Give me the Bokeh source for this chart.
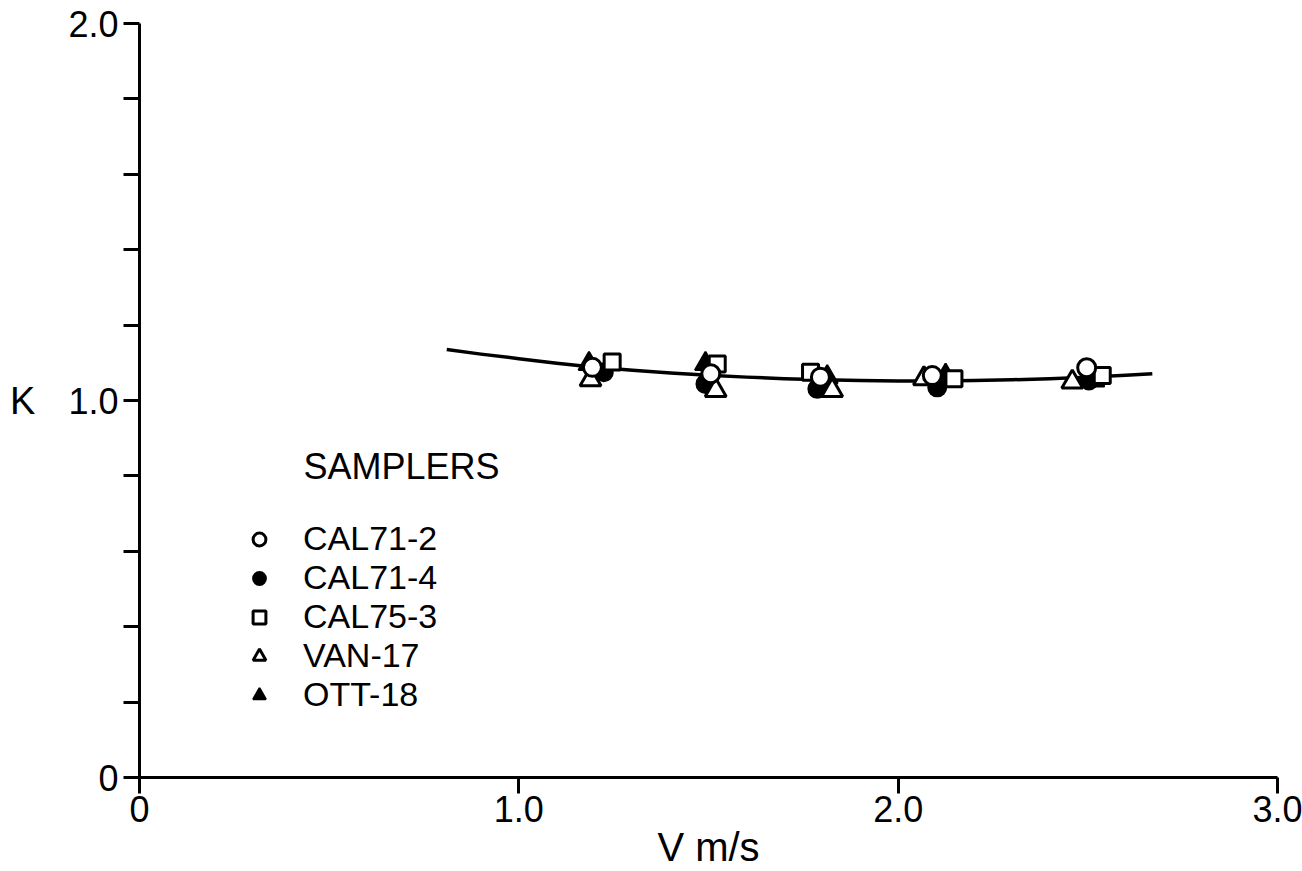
from bokeh.plotting import figure
from bokeh.models import Range1d, FixedTicker, Legend, LegendItem, Label
from bokeh.embed import file_html
from bokeh.resources import INLINE

# Velocity (m/s) and coefficient K for each sampler
v_cal71_2 = [1.194, 1.506, 1.795, 2.090, 2.497]
k_cal71_2 = [1.088, 1.071, 1.062, 1.066, 1.087]

v_cal71_4 = [1.224, 1.492, 1.787, 2.103, 2.503]
k_cal71_4 = [1.075, 1.044, 1.031, 1.035, 1.053]

v_cal75_3 = [1.246, 1.523, 1.769, 2.147, 2.538]
k_cal75_3 = [1.102, 1.097, 1.075, 1.058, 1.066]

v_van_17 = [1.189, 1.519, 1.826, 2.068, 2.459]
k_van_17 = [1.055, 1.027, 1.027, 1.058, 1.049]

v_ott_18 = [1.185, 1.492, 1.813, 2.125, 2.516]
k_ott_18 = [1.097, 1.097, 1.062, 1.066, 1.053]

# Fitted curve through the calibration points
v_fit = [0.81, 0.9, 1.0, 1.1, 1.2, 1.3, 1.4, 1.5, 1.6, 1.7, 1.8, 1.9,
         2.0, 2.1, 2.2, 2.3, 2.4, 2.5, 2.6, 2.67]
k_fit = [1.135, 1.123, 1.111, 1.099, 1.088, 1.080, 1.073, 1.067, 1.062, 1.058,
         1.055, 1.053, 1.052, 1.052, 1.053, 1.055, 1.058, 1.062, 1.067, 1.071]

x_ticks = [0, 1, 2, 3]
x_labels = {0: "0", 1: "1.0", 2: "2.0", 3: "3.0"}
y_ticks = [0, 1, 2]
y_minor = [0.2, 0.4, 0.6, 0.8, 1.2, 1.4, 1.6, 1.8]
y_labels = {0: "0", 1: "1.0", 2: "2.0"}

FONT = "Liberation Sans"

p = figure(width=1302, height=871, output_backend="svg", toolbar_location=None,
           x_range=Range1d(0, 3), y_range=Range1d(0, 2),
           min_border_left=139, min_border_right=25, min_border_top=23,
           min_border_bottom=94)
p.outline_line_color = None
p.grid.visible = False
p.background_fill_color = "white"
p.border_fill_color = "white"

for ax in (p.xaxis[0], p.yaxis[0]):
    ax.axis_line_width = 3
    ax.axis_line_color = "black"
    ax.major_tick_line_width = 3
    ax.major_tick_line_color = "black"
    ax.minor_tick_line_width = 3
    ax.minor_tick_line_color = "black"
    ax.major_tick_in = 0
    ax.major_tick_out = 16
    ax.minor_tick_in = 0
    ax.minor_tick_out = 16
    ax.major_label_text_font = FONT
    ax.major_label_text_font_size = "36px"
    ax.major_label_text_color = "black"
    ax.axis_label_text_font = FONT
    ax.axis_label_text_font_style = "normal"
    ax.axis_label_text_color = "black"

p.xaxis.ticker = FixedTicker(ticks=x_ticks, minor_ticks=[])
p.xaxis.major_label_overrides = x_labels
p.xaxis.major_label_standoff = 2
p.xaxis.axis_label = "V m/s"
p.xaxis.axis_label_text_font_size = "40px"
p.xaxis.axis_label_standoff = 0

p.yaxis.ticker = FixedTicker(ticks=y_ticks, minor_ticks=y_minor)
p.yaxis.major_label_overrides = y_labels
p.yaxis.major_label_standoff = 5
p.yaxis.axis_label = "K"
p.yaxis.axis_label_orientation = "horizontal"
p.yaxis.axis_label_text_font_size = "38px"
p.yaxis.axis_label_standoff = 30

p.line(v_fit, k_fit, line_color="black", line_width=3.5, line_join="round")

r4 = p.scatter(v_cal71_4, k_cal71_4, marker="circle", size=18,
               fill_color="black", line_color="black", line_width=2)
r5 = p.scatter(v_ott_18, k_ott_18, marker="triangle", size=21,
               fill_color="black", line_color="black", line_width=2)
r3 = p.scatter(v_cal75_3, k_cal75_3, marker="square", size=16,
               fill_color="white", line_color="black", line_width=3)
r6 = p.scatter(v_van_17, k_van_17, marker="triangle", size=21,
               fill_color="white", line_color="black", line_width=3)
r2 = p.scatter(v_cal71_2, k_cal71_2, marker="circle", size=18,
               fill_color="white", line_color="black", line_width=3)

legend = Legend(
    items=[LegendItem(label="CAL71-2", renderers=[r2]),
           LegendItem(label="CAL71-4", renderers=[r4]),
           LegendItem(label="CAL75-3", renderers=[r3]),
           LegendItem(label="VAN-17", renderers=[r6]),
           LegendItem(label="OTT-18", renderers=[r5])],
    location=(104, 63), orientation="vertical",
    padding=0, margin=0, spacing=0,
    glyph_width=32, glyph_height=32, label_standoff=28,
    label_text_font=FONT, label_text_font_size="34px",
    label_text_color="black", label_text_baseline="middle",
    background_fill_alpha=0, border_line_color=None,
)
p.add_layout(legend, "center")

p.add_layout(Label(x=164, y=311, x_units="screen", y_units="screen",
                   text="SAMPLERS", text_font=FONT, text_font_size="36px",
                   text_color="black", text_baseline="middle"))

open("out.html", "w").write(file_html(p, INLINE))
